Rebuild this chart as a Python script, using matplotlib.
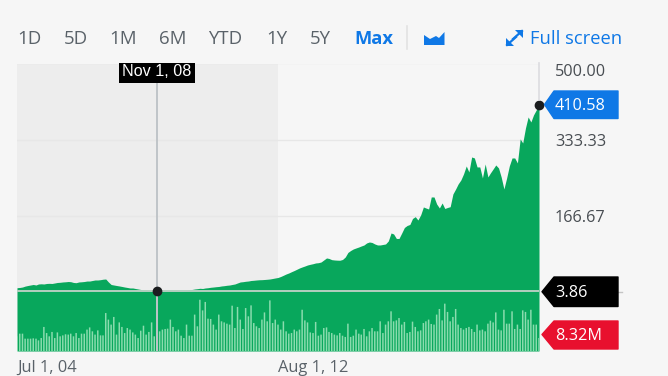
"""Stock price area chart with monthly volume bars and a crosshair, in a finance widget."""

import matplotlib

matplotlib.use("Agg")

import matplotlib.dates as mdates
import matplotlib.pyplot as plt
import pandas as pd

from matplotlib.patches import Polygon

RANGE_TABS = ["1D", "5D", "1M", "6M", "YTD", "1Y", "5Y"]
PRICE_TICKS = [500.00, 333.33, 166.67]
DATE_LABELS = ["Jul 1, 04", "Aug 1, 12"]

PRICE = [
    11.5, 12, 13, 15, 16.3, 17.4, 18.5, 17.4, 19.6, 20, 19.6, 20.7, 21, 20.7, 21.8, 22.9,
    23.3, 24, 24.4, 25, 24.6, 22.9, 22.4, 24, 24.4, 25, 26, 26, 27.2, 28.3, 28.3, 29,
    30, 30.5, 24, 18.5, 17.4, 16.3, 15.3, 14.2, 13, 12, 10.9, 10.9, 9.8, 8.7, 7.6, 6.5,
    6.5, 5.9, 5.4, 4.4, 3.86, 3.3, 4.4, 4.8, 5, 5, 4.4, 4.4, 4.4, 4.4, 4.4, 5.4,
    6.5, 7.6, 8.7, 9.4, 10.2, 9.8, 10.9, 11.5, 12.4, 13, 13.7, 14.2, 15.3, 15.9, 16.8, 17.4,
    18.5, 19.6, 21.8, 24, 24.6, 25.5, 26.1, 27.2, 27.7, 28.3, 28.8, 29, 29.4, 29.9, 30.5, 31.6,
    32.7, 33.8, 36, 38.6, 41.4, 43.6, 46.4, 49, 51.6, 54.5, 56.7, 58.8, 61, 62.5, 63.8, 65.4,
    66, 67.5, 71.9, 76.3, 75.2, 72.6, 71.9, 71.5, 71.3, 73, 78.4, 88.3, 92.6, 95.9, 98.1, 100.2,
    102.4, 104.6, 109, 111.1, 110, 106.8, 104.6, 104.6, 105.7, 106.8, 113.3, 130.7, 128.6, 118.8, 118.8, 130.7,
    142.7, 147.1, 149.3, 162.3, 166.3, 159, 170, 187.4, 185.2, 183, 209.2, 209.2, 193.9, 185.2, 196.1, 184.1,
    186.3, 188, 215.7, 226.6, 237.5, 246.2, 259.3, 276.7, 263.7, 296.3, 294.2, 274.6, 274.6, 250.6, 281.1, 252.8,
    261.5, 270.2, 278.9, 272.4, 252.8, 226.6, 250.6, 276.7, 294.2, 294.2, 283.3, 335.6, 326.9, 359.5, 383.5, 372.6,
    387.9, 398.8, 410.58,
]

VOLUME_M = [
    9.4, 11.1, 11.1, 7.9, 7.9, 7.9, 8.1, 7.9, 6.8, 8.3, 15.4, 11.5, 9.4, 12.2, 8.3, 11.9,
    9.4, 10, 10.7, 10.5, 11.1, 9.4, 11.5, 8.3, 11.1, 11.1, 13.7, 15.1, 12.6, 10.5, 13.2, 10,
    10, 24.3, 20.1, 16.9, 21.8, 10.5, 18.3, 15.4, 11.5, 14.7, 13.7, 11.9, 10.5, 8.3, 13, 16.2,
    10.5, 12.2, 18.3, 9.4, 11.5, 12.6, 13.7, 14.1, 14.3, 20.1, 15.4, 12.6, 13.7, 9.8, 8.3, 16.9,
    9.8, 9.8, 23.3, 15.8, 32.8, 26, 31.4, 20.7, 20.5, 16.9, 13.7, 23.3, 19, 18.3, 17.5, 16.9,
    29, 14.7, 28.2, 20.1, 14.1, 27.5, 22.2, 29.2, 17.9, 15.8, 14.7, 20.1, 24.7, 19, 32.4, 17.9,
    20.1, 16.9, 13.7, 19, 12.6, 11.1, 11.5, 13.7, 12.6, 13.7, 26.4, 19.6, 18.3, 11.9, 11.5, 18.6,
    9.8, 10.5, 14.7, 15.1, 12.2, 11.5, 10.5, 10, 11.5, 9.8, 9, 17.5, 9, 9.8, 13.7, 11.1,
    10.5, 14.1, 9.4, 12.6, 14.7, 12.6, 12.6, 19, 11.5, 16.9, 19, 25.4, 19, 19.6, 21.1, 16.9,
    18.6, 11.5, 12.2, 18.8, 15.4, 12.6, 13.2, 17.9, 19, 20.1, 17.3, 16.9, 23.3, 26.9, 19.6, 30.3,
    25, 19, 21.8, 26.9, 16.9, 14.7, 13.7, 14.7, 15.4, 14.1, 12.2, 16.9, 13.2, 13.7, 12.6, 17.5,
    19.4, 18.3, 24.7, 13.7, 13.2, 26.4, 17.5, 17.5, 25.4, 14.1, 16.9, 14.1, 26, 25, 20.1, 26.4,
    16.9, 16.9, 8.32,
]

FIG_W, FIG_H = 668, 376
BG = "#f6f6f6"
GREEN = "#08a75c"
BLUE = "#0f78e6"
GREY_TEXT = "#5a6269"
DARK_TEXT = "#484d52"
FONT = "Open Sans"


def add_axes_px(fig, left, top, right, bottom):
    """Add axes placed with pixel edges measured from the top left corner."""
    return fig.add_axes(
        [left / FIG_W, 1 - bottom / FIG_H, (right - left) / FIG_W, (bottom - top) / FIG_H]
    )


def tag(ax, tip_x, y, top, bottom, color, label):
    """Draw a value tag with an arrow tip pointing left at the chart."""
    body_x, right = 554, 618
    ax.add_patch(
        Polygon(
            [(tip_x, y), (body_x, top), (right, top), (right, bottom), (body_x, bottom)],
            closed=True,
            facecolor=color,
            edgecolor=color,
            linewidth=1,
            joinstyle="round",
            zorder=5,
        )
    )
    ax.text(555, y + 1.5, label, color="white", fontsize=11.7, family=FONT, va="center", zorder=6)


dates = pd.date_range("2004-07-01", periods=len(PRICE), freq="MS")
x_vals = mdates.date2num(dates)
cross_idx = list(dates).index(pd.Timestamp("2008-11-01"))
shade_end = mdates.date2num(pd.Timestamp("2012-08-01"))

fig = plt.figure(figsize=(FIG_W / 100, FIG_H / 100), dpi=100, facecolor=BG)

# price panel, the lower part of the y range is room for the volume bars
ax = add_axes_px(fig, 17, 63.5, 539, 351)
ax.set_facecolor(BG)
ax.set_xlim(x_vals[0], x_vals[-1])
ax.set_ylim(-126.4, 500)
ax.axvspan(x_vals[0], shade_end, color="#ededed", linewidth=0, zorder=0)
for val in PRICE_TICKS:
    ax.axhline(val, color="#e7e7e7", linewidth=1, zorder=1)
ax.fill_between(x_vals, PRICE, -126.4, color=GREEN, linewidth=0, zorder=2)
ax.axis("off")

vol_ax = ax.twinx()
vol_ax.set_ylim(0, 184)
bars = vol_ax.bar(x_vals, VOLUME_M, width=17, color="#8adcae", linewidth=0, zorder=3)
for bar in bars:
    bar.set_snap(False)
vol_ax.axis("off")

# crosshair drawn on top of everything in the panel
top_ax = ax.twinx()
top_ax.set_ylim(ax.get_ylim())
top_ax.axis("off")
top_ax.axhline(PRICE[cross_idx], color="#b4cfc0", linewidth=1.4, zorder=4)
top_ax.axvline(x_vals[cross_idx], color="#bfc4c8", linewidth=1.4, ymax=0.935, zorder=4)
for idx in (cross_idx, len(PRICE) - 1):
    top_ax.plot(
        x_vals[idx], PRICE[idx], "o", color="#1b1d1f", markersize=6,
        markeredgecolor="#1b1d1f", clip_on=False, zorder=6,
    )

# widget furniture in pixel coordinates
ui = fig.add_axes([0, 0, 1, 1], facecolor="none")
ui.set_xlim(0, FIG_W)
ui.set_ylim(FIG_H, 0)
ui.axis("off")

for label, tab_x in zip(RANGE_TABS, [17.5, 63.5, 109.5, 158.5, 208.5, 266, 309.5]):
    ui.text(tab_x, 39.5, label, color=GREY_TEXT, fontsize=13.4, family=FONT, va="center")
ui.text(354, 39.5, "Max", color=BLUE, fontsize=13.2, family=FONT, fontweight="bold", va="center")
ui.plot([407, 407], [26, 49], color="#e2e2e2", linewidth=1.2)
ui.add_patch(
    Polygon(
        [(424, 35), (430, 39), (436, 36), (439, 38), (444.5, 32), (444.5, 45), (424, 45)],
        closed=True, facecolor=BLUE, edgecolor="none",
    )
)
# full screen arrows
ui.plot([507, 516], [45, 37], color=BLUE, linewidth=1.6)
ui.plot([513, 522], [39, 31], color=BLUE, linewidth=1.6)
ui.add_patch(Polygon([(506, 38), (506, 46), (514, 46)], closed=True, facecolor=BLUE, edgecolor="none"))
ui.add_patch(Polygon([(515, 30), (523, 30), (523, 38)], closed=True, facecolor=BLUE, edgecolor="none"))
ui.text(530, 38.5, "Full screen", color=BLUE, fontsize=13.2, family=FONT, va="center")

# right axis line above the last price
ui.plot([539, 539], [63, 100], color="#dcdce0", linewidth=1.2)
ui.plot([618, 622], [292, 292], color="#c4c4c4", linewidth=1)
for val, tick_y in zip(PRICE_TICKS, [72, 141.5, 217.5]):
    ui.text(555, tick_y, f"{val:.2f}", color=DARK_TEXT, fontsize=11.7, family=FONT, va="center")

tag(ui, 544.5, 104.5, 91, 118.5, BLUE, "410.58")
tag(ui, 542, 291.7, 277, 306.5, "black", "3.86")
tag(ui, 542, 334.5, 321, 349, "#e8102e", "8.32M")

ui.fill_between([119, 195], 63, 83, color="black", linewidth=0, zorder=5)
ui.text(157, 72, "Nov 1, 08", color="white", fontsize=11.6, family="Liberation Sans",
        ha="center", va="center", zorder=6)

for label, lab_x in zip(DATE_LABELS, [17, 278]):
    ui.text(lab_x, 367.5, label, color=GREY_TEXT, fontsize=11.9, family=FONT, va="center")

fig.savefig("out.png", dpi=100, facecolor=BG)
plt.close(fig)
